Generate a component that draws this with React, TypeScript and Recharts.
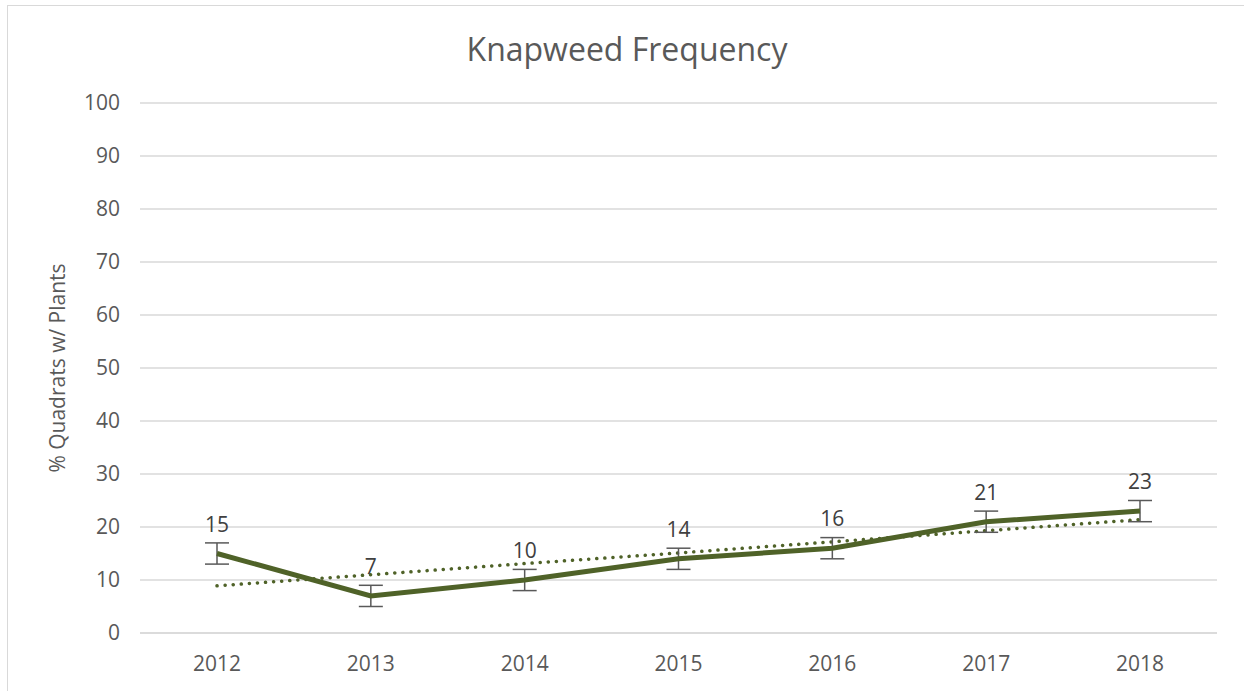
import { CartesianGrid, ComposedChart, ErrorBar, LabelList, Line, XAxis, YAxis } from 'recharts';

// values
const years = ["2012", "2013", "2014", "2015", "2016", "2017", "2018"];
const frequency = [15, 7, 10, 14, 16, 21, 23];
const errors = [2, 2, 2, 2, 2, 2, 2];
const trend = [8.9, 11.0, 13.1, 15.1, 17.2, 19.3, 21.4];
const yTicks = [0, 10, 20, 30, 40, 50, 60, 70, 80, 90, 100];

const data = years.map((year, i) => ({ year, frequency: frequency[i], err: errors[i], trend: trend[i] }));

const FONT = "'Open Sans', sans-serif";
const TEXT = "#595959";
const GREEN = "#4f6228";

export default function App() {
    return <div style={{
        position: "absolute", left: 7, top: 5, width: 1250, height: 700,
        border: "1px solid #d9d9d9", background: "#fff", fontFamily: FONT
    }}>
        <div style={{
            position: "absolute", left: 0, top: 21, width: 1238, textAlign: "center",
            fontSize: 32, color: TEXT
        }}>Knapweed Frequency</div>
        <ComposedChart width={1238} height={686} data={data}
            margin={{ top: 97, right: 29, bottom: 29, left: 70 }}>
            <CartesianGrid vertical={false} stroke="#d9d9d9" strokeWidth={1.5} />
            <XAxis dataKey="year" axisLine={{ stroke: "#d9d9d9", strokeWidth: 1.5 }} tickLine={false}
                tickSize={0} tickMargin={23} padding={{ left: 77, right: 77 }} height={30}
                tick={{ fill: TEXT, fontSize: 21, fontFamily: FONT }} />
            <YAxis domain={[0, 100]} ticks={yTicks} width={62} axisLine={false} tickLine={false}
                tickSize={0} tickMargin={20} interval={0}
                tick={{ fill: TEXT, fontSize: 21, fontFamily: FONT }}
                label={{
                    value: "% Quadrats w/ Plants", angle: -90, position: "insideLeft", dx: -25,
                    style: { textAnchor: "middle", fill: TEXT, fontSize: 21, fontFamily: FONT }
                }} />
            <Line dataKey="trend" stroke={GREEN} strokeWidth={3.5} strokeDasharray="0.1 8"
                strokeLinecap="round" dot={false} activeDot={false} isAnimationActive={false} />
            <Line dataKey="frequency" stroke={GREEN} strokeWidth={5} dot={false} activeDot={false}
                isAnimationActive={false}>
                <ErrorBar dataKey="err" width={12} stroke="#595959" strokeWidth={1.5} />
                <LabelList dataKey="frequency" position="top" offset={22}
                    style={{ fill: "#404040", fontSize: 21, fontFamily: FONT }} />
            </Line>
        </ComposedChart>
    </div>;
}
